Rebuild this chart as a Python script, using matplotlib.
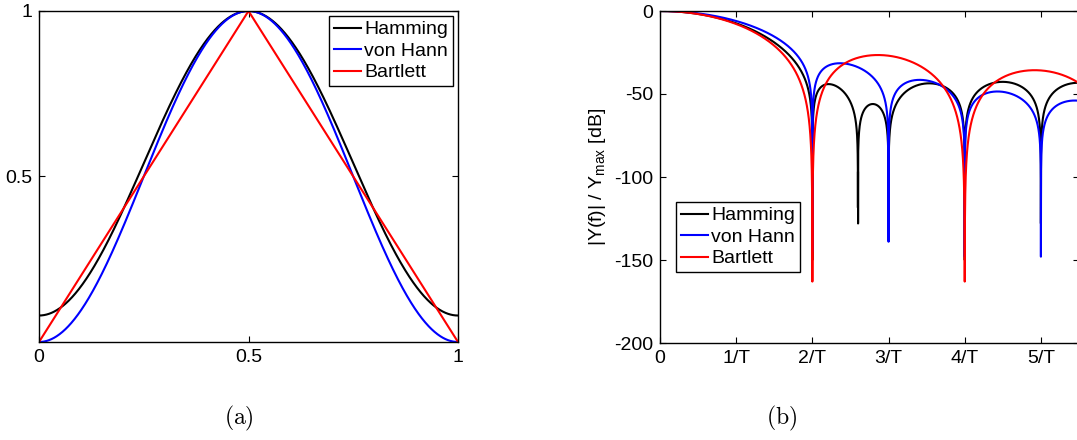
import numpy as np
import matplotlib
matplotlib.use("Agg")
import matplotlib.pyplot as plt

# === DATA ===
WINDOWS = ["Hamming", "von Hann", "Bartlett"]
COLORS = ["#000000", "#0000ff", "#ff0000"]
# raised-cosine weights a0 (w = a0 - (1 - a0) cos(2 pi t)); Bartlett is the triangle
COSINE_A0 = {"Hamming": 0.54, "von Hann": 0.5}

# null positions [1/T] and the depth the plotted null reaches [dB]
NULL_X = {
    "Hamming": [2.0, 2.6, 3.0, 4.0, 5.0],
    "von Hann": [2.0, 3.0, 4.0, 5.0],
    "Bartlett": [2.0, 4.0],
}
NULL_DB = {
    "Hamming": [-150, -128, -135, -150, -128],
    "von Hann": [-145, -139, -148, -148],
    "Bartlett": [-163, -163],
}

TIME_TICKS = [0, 0.5, 1]
TIME_TICKLABELS = ["0", "0.5", "1"]
AMP_TICKS = [0.5, 1]
AMP_TICKLABELS = ["0.5", "1"]
FREQ_TICKS = [0, 1, 2, 3, 4, 5]
FREQ_TICKLABELS = ["0", "1/T", "2/T", "3/T", "4/T", "5/T"]
DB_TICKS = [-200, -150, -100, -50, 0]
DB_TICKLABELS = ["-200", "-150", "-100", "-50", "0"]

# === STYLE ===
W, H = 1077, 440
LW = 1.5
FS = 14
plt.rcParams["font.family"] = ["Liberation Sans", "DejaVu Sans"]
plt.rcParams["xtick.direction"] = "in"
plt.rcParams["ytick.direction"] = "in"
plt.rcParams["xtick.major.size"] = 4
plt.rcParams["ytick.major.size"] = 4
plt.rcParams["xtick.top"] = True
plt.rcParams["ytick.right"] = True
plt.rcParams["axes.linewidth"] = 1.0

LEGEND_KW = dict(borderaxespad=0, fontsize=FS, handlelength=1.4, handletextpad=0.15,
                 labelspacing=0.2, borderpad=0.25, fancybox=False,
                 framealpha=1, edgecolor="black")


def window(name, t):
    if name == "Bartlett":
        return 1 - np.abs(2 * t - 1)
    a0 = COSINE_A0[name]
    return a0 - (1 - a0) * np.cos(2 * np.pi * t)


def spectrum_db(name, f):
    if name == "Bartlett":
        mag = np.sinc(f / 2) ** 2
    else:
        a0 = COSINE_A0[name]
        mag = (a0 * np.sinc(f) + (1 - a0) / 2 * (np.sinc(f - 1) + np.sinc(f + 1))) / a0
    db = 20 * np.log10(np.abs(mag) + 1e-300)
    for x0, d0 in zip(NULL_X[name], NULL_DB[name]):
        i = np.argmin(np.abs(f - x0))
        db[i] = d0
    return np.clip(db, min(NULL_DB[name]), None)


fig = plt.figure(figsize=(W / 100, H / 100), dpi=100)

# --- (a) time windows ---
ax1 = fig.add_axes([39 / W, 1 - 342 / H, (458 - 39) / W, (342 - 11) / H])
t = np.linspace(0, 1, 1001)
for name, c in zip(WINDOWS, COLORS):
    ax1.plot(t, window(name, t), color=c, lw=LW, label=name)
ax1.set_xlim(0, 1)
ax1.set_ylim(0, 1)
ax1.set_xticks(TIME_TICKS, TIME_TICKLABELS, fontsize=FS)
ax1.set_yticks(AMP_TICKS, AMP_TICKLABELS, fontsize=FS)
ax1.tick_params(pad=5)
leg1 = ax1.legend(loc="upper right", bbox_to_anchor=(453 / W, 1 - 16 / H),
                  bbox_transform=fig.transFigure, **LEGEND_KW)
leg1.get_frame().set_linewidth(1.0)

# --- (b) spectra ---
ax2 = fig.add_axes([660 / W, 1 - 343 / H, (1079 - 660) / W, (343 - 11) / H])
f = np.linspace(0, 5.5, 5501)
for name, c in zip(WINDOWS, COLORS):
    ax2.plot(f, spectrum_db(name, f), color=c, lw=LW, label=name)
ax2.set_xlim(0, 5.5)
ax2.set_ylim(-200, 0)
ax2.set_xticks(FREQ_TICKS, FREQ_TICKLABELS, fontsize=FS)
ax2.set_yticks(DB_TICKS, DB_TICKLABELS, fontsize=FS)
ax2.tick_params(pad=5)
ax2.set_ylabel(r"|Y(f)| / Y$_{\mathregular{max}}$ [dB]", fontsize=FS, labelpad=4)
leg2 = ax2.legend(loc="upper left", bbox_to_anchor=(676 / W, 1 - 202 / H),
                  bbox_transform=fig.transFigure, **LEGEND_KW)
leg2.get_frame().set_linewidth(1.0)

# --- panel captions ---
fig.text(239 / W, 1 - 418 / H, r"$\mathrm{(a)}$", ha="center", va="center",
         fontsize=17, math_fontfamily="cm")
fig.text(782 / W, 1 - 418 / H, r"$\mathrm{(b)}$", ha="center", va="center",
         fontsize=17, math_fontfamily="cm")

fig.savefig("out.png", dpi=100)
